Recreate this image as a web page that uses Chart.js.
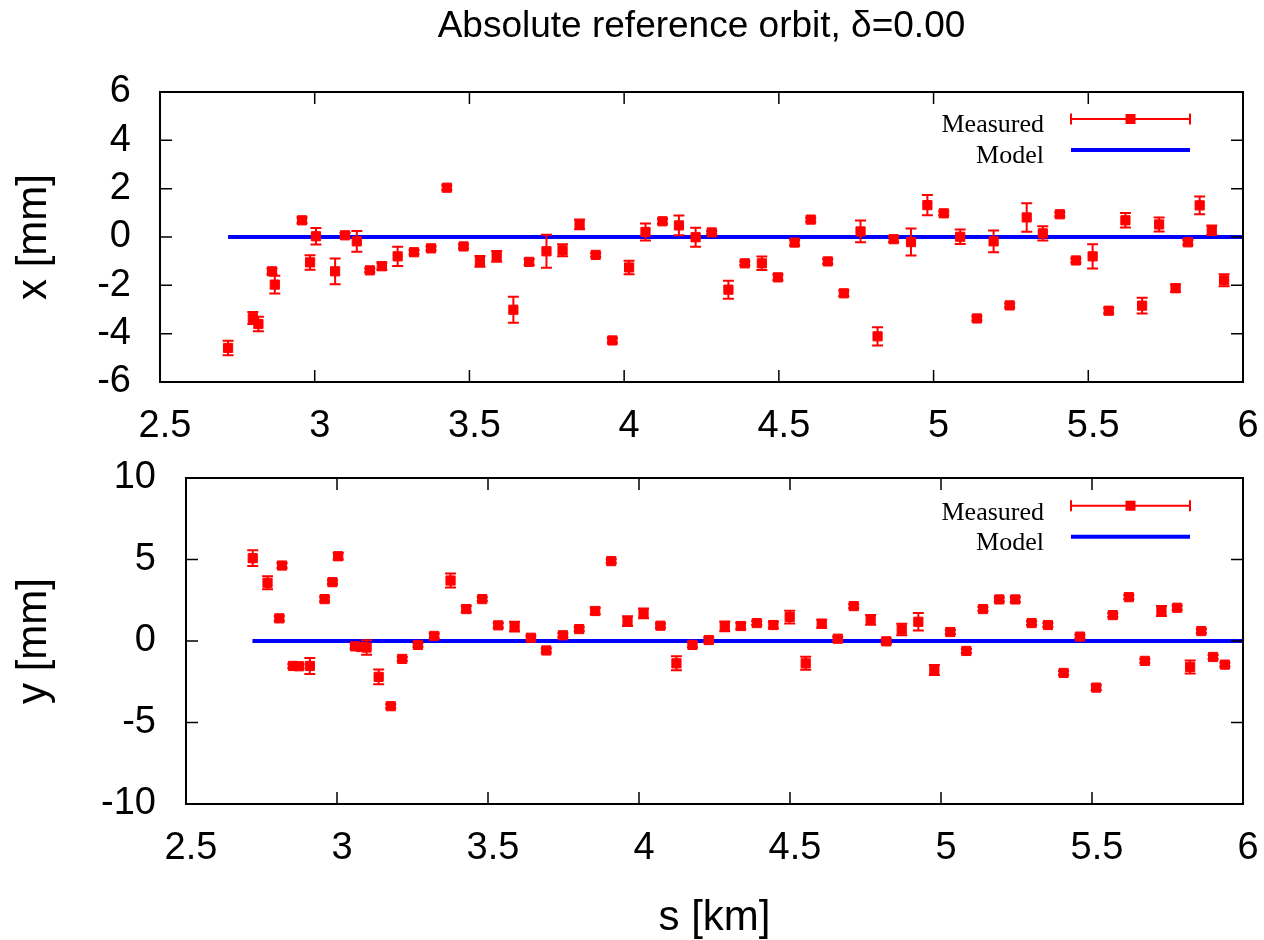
<!DOCTYPE html>
<html><head><meta charset="utf-8">
<script src="https://cdn.jsdelivr.net/npm/chart.js@4.4.0/dist/chart.umd.min.js"></script>
<style>
html,body{margin:0;padding:0;background:#fff;width:1264px;height:940px;overflow:hidden;}
canvas{position:absolute;left:0;}
#c1{top:0;} #c2{top:430px;}
</style></head><body>
<canvas id="c1" width="1264" height="470"></canvas>
<canvas id="c2" width="1264" height="510"></canvas>
<script>
// ---------- data ----------
const titleText = 'Absolute reference orbit, \u03b4=0.00';
const sTickValues = [2.5, 3, 3.5, 4, 4.5, 5, 5.5, 6];
const sTickLabels = ['2.5', '3', '3.5', '4', '4.5', '5', '5.5', '6'];
const xTickValues = [-6, -4, -2, 0, 2, 4, 6];
const xTickLabels = ['-6', '-4', '-2', '0', '2', '4', '6'];
const yTickValues = [-10, -5, 0, 5, 10];
const yTickLabels = ['-10', '-5', '0', '5', '10'];
const legendLabels = ['Measured', 'Model'];

const modelS = [2.72, 6.0];
const modelX = [0, 0];
const modelY = [0, 0];

// horizontal plane: s [km], x [mm], error [mm]
const xS = [2.720, 2.800, 2.818, 2.862, 2.871, 2.959, 2.985, 3.004, 3.066, 3.098,
            3.136, 3.178, 3.217, 3.268, 3.321, 3.376, 3.427, 3.481, 3.534, 3.588,
            3.642, 3.693, 3.749, 3.801, 3.856, 3.908, 3.962, 4.016, 4.069, 4.124,
            4.177, 4.231, 4.283, 4.337, 4.390, 4.445, 4.497, 4.551, 4.603, 4.658,
            4.710, 4.764, 4.819, 4.871, 4.927, 4.980, 5.033, 5.086, 5.140, 5.194,
            5.246, 5.301, 5.353, 5.408, 5.460, 5.514, 5.566, 5.620, 5.674, 5.729,
            5.782, 5.822, 5.860, 5.899, 5.939];
const xVal = [-4.59, -3.35, -3.60, -1.42, -1.97, 0.69, -1.05, 0.03, -1.42, 0.07,
              -0.18, -1.38, -1.21, -0.80, -0.63, -0.47, 2.04, -0.39, -1.01, -0.80,
              -3.01, -1.03, -0.59, -0.55, 0.52, -0.74, -4.28, -1.26, 0.21, 0.65,
              0.48, -0.01, 0.19, -2.18, -1.09, -1.09, -1.67, -0.23, 0.72, -1.01,
              -2.33, 0.23, -4.11, -0.09, -0.21, 1.32, 0.98, 0.01, -3.37, -0.18,
              -2.83, 0.81, 0.15, 0.94, -0.97, -0.80, -3.05, 0.69, -2.84, 0.52,
              -2.12, -0.22, 1.31, 0.28, -1.79];
const xErr = [0.30, 0.25, 0.30, 0.12, 0.37, 0.12, 0.30, 0.34, 0.53, 0.10,
              0.43, 0.08, 0.15, 0.40, 0.08, 0.08, 0.10, 0.08, 0.22, 0.22,
              0.54, 0.12, 0.68, 0.25, 0.20, 0.08, 0.10, 0.28, 0.35, 0.10,
              0.41, 0.39, 0.06, 0.37, 0.08, 0.28, 0.12, 0.12, 0.08, 0.10,
              0.12, 0.45, 0.38, 0.12, 0.56, 0.42, 0.08, 0.30, 0.08, 0.45,
              0.08, 0.59, 0.29, 0.08, 0.08, 0.50, 0.12, 0.30, 0.33, 0.29,
              0.15, 0.10, 0.37, 0.20, 0.25];

// vertical plane: s [km], y [mm], error [mm]
const yS = [2.721, 2.770, 2.809, 2.818, 2.854, 2.874, 2.910, 2.959, 2.985, 3.004,
            3.060, 3.080, 3.098, 3.138, 3.178, 3.216, 3.268, 3.322, 3.376, 3.428,
            3.481, 3.534, 3.588, 3.642, 3.693, 3.748, 3.802, 3.855, 3.908, 3.962,
            4.015, 4.071, 4.124, 4.177, 4.231, 4.284, 4.337, 4.390, 4.445, 4.499,
            4.552, 4.605, 4.658, 4.711, 4.767, 4.819, 4.870, 4.925, 4.978, 5.031,
            5.084, 5.139, 5.193, 5.246, 5.300, 5.354, 5.406, 5.460, 5.514, 5.569,
            5.622, 5.675, 5.730, 5.782, 5.825, 5.862, 5.901, 5.940];
const yVal = [5.08, 3.57, 1.39, 4.63, -1.53, -1.55, -1.53, 2.57, 3.61, 5.20,
              -0.33, -0.37, -0.40, -2.20, -4.00, -1.10, -0.24, 0.31, 3.71, 1.96,
              2.57, 0.96, 0.88, 0.20, -0.58, 0.35, 0.73, 1.84, 4.90, 1.22,
              1.69, 0.94, -1.37, -0.24, 0.06, 0.90, 0.92, 1.10, 0.98, 1.47,
              -1.37, 1.06, 0.14, 2.14, 1.29, -0.02, 0.71, 1.18, -1.78, 0.55,
              -0.61, 1.96, 2.55, 2.55, 1.10, 0.98, -1.96, 0.27, -2.86, 1.59,
              2.69, -1.22, 1.84, 2.04, -1.59, 0.61, -0.98, -1.45];
const yErr = [0.48, 0.40, 0.15, 0.15, 0.12, 0.12, 0.49, 0.15, 0.12, 0.20,
              0.12, 0.15, 0.45, 0.45, 0.12, 0.12, 0.12, 0.15, 0.43, 0.20,
              0.12, 0.15, 0.30, 0.12, 0.12, 0.12, 0.12, 0.20, 0.12, 0.30,
              0.30, 0.12, 0.43, 0.15, 0.15, 0.30, 0.20, 0.12, 0.20, 0.39,
              0.40, 0.25, 0.12, 0.12, 0.30, 0.15, 0.35, 0.54, 0.30, 0.12,
              0.12, 0.12, 0.12, 0.15, 0.12, 0.12, 0.12, 0.12, 0.15, 0.12,
              0.12, 0.12, 0.30, 0.12, 0.40, 0.12, 0.12, 0.12];

// ---------- styling ----------
const SANS = '"Liberation Sans", Arial, Helvetica, sans-serif';
const SERIF = '"Liberation Serif", "Times New Roman", serif';
const RED = '#ff0000';
const BLUE = '#0000ff';
const TICK_FONT = 38;

const framePlugin = {
  id: 'frame',
  afterDatasetsDraw(chart, args, opts) {
    const ctx = chart.ctx;
    const xs = chart.scales.x, ys = chart.scales.y;
    chart.data.datasets.forEach((ds) => {
      if (!ds.errors) return;
      ctx.save();
      ctx.strokeStyle = RED;
      ctx.lineWidth = 2;
      ds.data.forEach((p, i) => {
        const e = ds.errors[i];
        const px = xs.getPixelForValue(p.x);
        const y1 = ys.getPixelForValue(p.y + e);
        const y2 = ys.getPixelForValue(p.y - e);
        ctx.beginPath();
        ctx.moveTo(px, y1); ctx.lineTo(px, y2);
        ctx.moveTo(px - 5.5, y1); ctx.lineTo(px + 5.5, y1);
        ctx.moveTo(px - 5.5, y2); ctx.lineTo(px + 5.5, y2);
        ctx.stroke();
      });
      ctx.restore();
    });
  },
  afterDraw(chart, args, opts) {
    const ctx = chart.ctx;
    const a = chart.chartArea;
    const xs = chart.scales.x, ys = chart.scales.y;
    ctx.save();
    ctx.strokeStyle = '#000';
    ctx.lineWidth = 1.5;
    ctx.beginPath();
    xs.ticks.forEach(t => {
      const px = xs.getPixelForValue(t.value);
      ctx.moveTo(px, a.bottom); ctx.lineTo(px, a.bottom - 12);
      ctx.moveTo(px, a.top); ctx.lineTo(px, a.top + 12);
    });
    ys.ticks.forEach(t => {
      const py = ys.getPixelForValue(t.value);
      ctx.moveTo(a.left, py); ctx.lineTo(a.left + 12, py);
      ctx.moveTo(a.right, py); ctx.lineTo(a.right - 12, py);
    });
    ctx.stroke();
    ctx.lineWidth = 2;
    ctx.strokeRect(a.left, a.top, a.right - a.left, a.bottom - a.top);

    // legend
    const L = opts.legend;
    ctx.font = '26px ' + SERIF;
    ctx.fillStyle = '#000';
    ctx.textAlign = 'right';
    ctx.textBaseline = 'middle';
    ctx.fillText(legendLabels[0], L.textX, L.y1text);
    ctx.fillText(legendLabels[1], L.textX, L.y2text);
    ctx.strokeStyle = RED;
    ctx.lineWidth = 2;
    ctx.beginPath();
    ctx.moveTo(L.x0, L.y1); ctx.lineTo(L.x1, L.y1);
    ctx.moveTo(L.x0, L.y1 - 5.5); ctx.lineTo(L.x0, L.y1 + 5.5);
    ctx.moveTo(L.x1, L.y1 - 5.5); ctx.lineTo(L.x1, L.y1 + 5.5);
    ctx.stroke();
    ctx.fillStyle = RED;
    const mx = (L.x0 + L.x1) / 2;
    ctx.fillRect(mx - 5, L.y1 - 5, 10, 10);
    ctx.strokeStyle = BLUE;
    ctx.lineWidth = 4;
    ctx.beginPath();
    ctx.moveTo(L.x0, L.y2); ctx.lineTo(L.x1, L.y2);
    ctx.stroke();

    if (opts.title) {
      ctx.font = '37px ' + SANS;
      ctx.fillStyle = '#000';
      ctx.textAlign = 'center';
      ctx.textBaseline = 'alphabetic';
      ctx.fillText(opts.title, (a.left + a.right) / 2, 37);
    }
    ctx.restore();
  }
};

function makeChart(id, cfg) {
  const measured = cfg.s.map((s, i) => ({x: s, y: cfg.v[i]}));
  const model = modelS.map((s, i) => ({x: s, y: cfg.model[i]}));
  return new Chart(document.getElementById(id), {
    type: 'scatter',
    data: {
      datasets: [
        {
          label: legendLabels[0],
          data: measured,
          errors: cfg.err,
          pointStyle: 'rect',
          pointRadius: 6.5,
          pointBorderWidth: 1,
          pointBackgroundColor: RED,
          pointBorderColor: RED,
          showLine: false
        },
        {
          label: legendLabels[1],
          data: model,
          showLine: true,
          borderColor: BLUE,
          borderWidth: 4,
          pointRadius: 0,
          fill: false
        }
      ]
    },
    options: {
      responsive: false,
      animation: false,
      devicePixelRatio: 1,
      events: [],
      layout: {padding: {left: 0, top: cfg.top, right: 21, bottom: 0}},
      plugins: {
        legend: {display: false},
        tooltip: {enabled: false},
        frame: {legend: cfg.legend, title: cfg.title}
      },
      scales: {
        x: {
          type: 'linear',
          min: 2.5, max: 6,
          afterBuildTicks: sc => { sc.ticks = sTickValues.map(v => ({value: v})); },
          afterFit: sc => { sc.height = cfg.xAxisH; sc.paddingLeft = 0; sc.paddingRight = 0; },
          grid: {display: false, drawTicks: false},
          border: {display: false},
          ticks: {
            color: '#000',
            font: {family: SANS, size: TICK_FONT},
            padding: 22,
            labelOffset: 5,
            maxRotation: 0,
            autoSkip: false,
            callback: (v, i) => sTickLabels[i]
          },
          title: cfg.xTitle ? {
            display: true, text: cfg.xTitle, color: '#000',
            font: {family: SANS, size: 42, lineHeight: 1.0},
            padding: {top: 0, bottom: 1}
          } : {display: false}
        },
        y: {
          type: 'linear',
          min: cfg.yTicks[0], max: cfg.yTicks[cfg.yTicks.length - 1],
          afterBuildTicks: sc => { sc.ticks = cfg.yTicks.map(v => ({value: v})); },
          afterFit: sc => { sc.width = cfg.yAxisW; sc.paddingTop = 0; sc.paddingBottom = 0; },
          grid: {display: false, drawTicks: false},
          border: {display: false},
          ticks: {
            color: '#000',
            font: {family: SANS, size: TICK_FONT},
            padding: cfg.yPad,
            autoSkip: false,
            callback: (v, i) => cfg.yLabels[i]
          },
          title: {
            display: true, text: cfg.yTitle, color: '#000',
            font: {family: SANS, size: 42, lineHeight: 1.2},
            padding: {top: 9, bottom: 0}
          }
        }
      }
    },
    plugins: [framePlugin]
  });
}

makeChart('c1', {
  s: xS, v: xVal, err: xErr, model: modelX,
  yTicks: xTickValues, yLabels: xTickLabels,
  yTitle: 'x [mm]', xTitle: null, title: titleText,
  top: 92, xAxisH: 88, yAxisW: 160, yPad: 29,
  legend: {textX: 1044, y1text: 125, y2text: 156.5, x0: 1071, x1: 1190, y1: 119, y2: 150}
});

makeChart('c2', {
  s: yS, v: yVal, err: yErr, model: modelY,
  yTicks: yTickValues, yLabels: yTickLabels,
  yTitle: 'y [mm]', xTitle: 's [km]', title: null,
  top: 48, xAxisH: 136, yAxisW: 186, yPad: 30,
  legend: {textX: 1044, y1text: 83, y2text: 113.3, x0: 1071, x1: 1190, y1: 75.7, y2: 106.7}
});
</script>
</body></html>
